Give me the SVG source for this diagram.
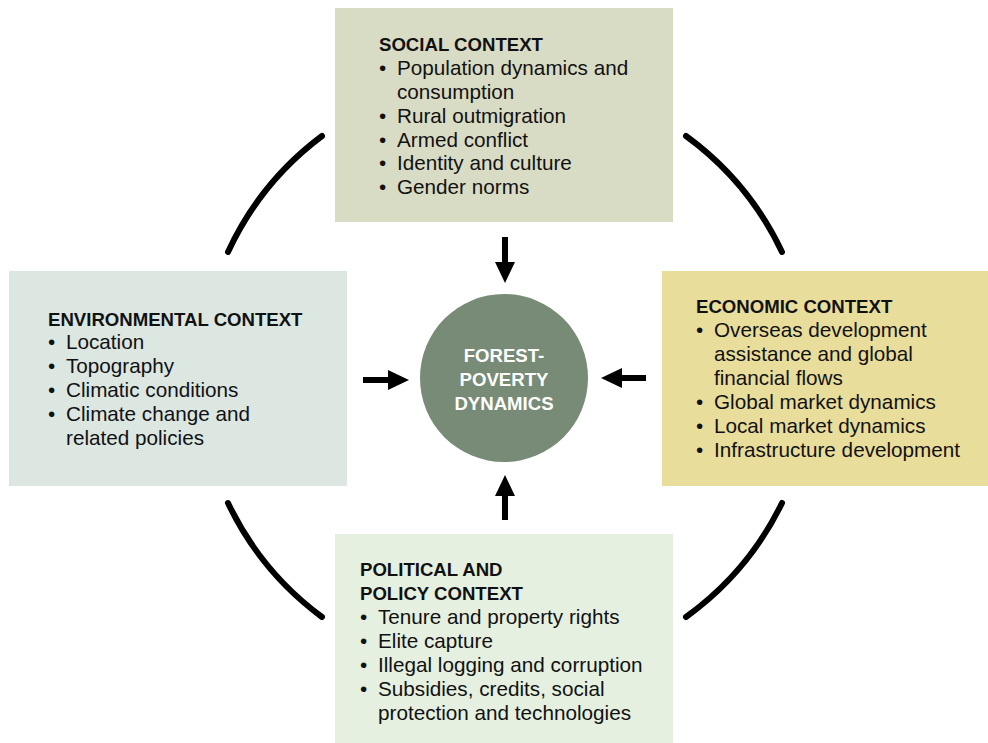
<svg xmlns="http://www.w3.org/2000/svg" width="988" height="743" viewBox="0 0 988 743">
<style>
  .t { font-family: "Liberation Sans", Arial, sans-serif; font-size: 20.7px; fill: #111; }
  .h { font-weight: bold; font-size: 18.6px; }
  .c { font-family: "Liberation Sans", Arial, sans-serif; font-size: 18.6px; font-weight: bold; fill: #fff; text-anchor: middle; }
  .arc { fill: none; stroke: #000; stroke-width: 6; stroke-linecap: round; }
  .arr { fill: none; stroke: #000; stroke-width: 6; marker-end: url(#head); }
</style>
<defs>
  <marker id="head" markerUnits="userSpaceOnUse" markerWidth="22" markerHeight="22" refX="0" refY="10" orient="auto">
    <path d="M0,0 L21,10 L0,20 Z" fill="#000"/>
  </marker>
</defs>
<rect width="988" height="743" fill="#fff"/>

<g id="connectors">
  <path class="arc" d="M322,136 A304,304 0 0 0 228,252"/>
  <path class="arc" d="M686,136 A304,304 0 0 1 782,252"/>
  <path class="arc" d="M228,503 A304,304 0 0 0 322,617"/>
  <path class="arc" d="M782,503 A304,304 0 0 1 686,617"/>
  <path class="arr" d="M505,237 L505,262"/>
  <path class="arr" d="M505,520 L505,496"/>
  <path class="arr" d="M363,380 L388,380"/>
  <path class="arr" d="M646,378 L622,378"/>
</g>

<g id="social">
  <rect x="335" y="8" width="338" height="214" fill="#d9dcc4"/>
  <text class="t"><tspan class="h" x="379" y="51">SOCIAL CONTEXT</tspan><tspan x="379" y="75">•</tspan><tspan x="397" y="75">Population dynamics and</tspan><tspan x="397" y="99">consumption</tspan><tspan x="379" y="123">•</tspan><tspan x="397" y="123">Rural outmigration</tspan><tspan x="379" y="147">•</tspan><tspan x="397" y="147">Armed conflict</tspan><tspan x="379" y="170">•</tspan><tspan x="397" y="170">Identity and culture</tspan><tspan x="379" y="194">•</tspan><tspan x="397" y="194">Gender norms</tspan></text>
</g>

<g id="environmental">
  <rect x="9" y="271" width="338" height="215" fill="#dce7e2"/>
  <text class="t"><tspan class="h" x="48" y="326">ENVIRONMENTAL CONTEXT</tspan><tspan x="48" y="349">•</tspan><tspan x="66" y="349">Location</tspan><tspan x="48" y="373">•</tspan><tspan x="66" y="373">Topography</tspan><tspan x="48" y="397">•</tspan><tspan x="66" y="397">Climatic conditions</tspan><tspan x="48" y="421">•</tspan><tspan x="66" y="421">Climate change and</tspan><tspan x="66" y="445">related policies</tspan></text>
</g>

<g id="economic">
  <rect x="662" y="271" width="326" height="215" fill="#e9dd9c"/>
  <text class="t"><tspan class="h" x="696" y="313">ECONOMIC CONTEXT</tspan><tspan x="696" y="337">•</tspan><tspan x="714" y="337">Overseas development</tspan><tspan x="714" y="361">assistance and global</tspan><tspan x="714" y="385">financial flows</tspan><tspan x="696" y="409">•</tspan><tspan x="714" y="409">Global market dynamics</tspan><tspan x="696" y="433">•</tspan><tspan x="714" y="433">Local market dynamics</tspan><tspan x="696" y="457">•</tspan><tspan x="714" y="457">Infrastructure development</tspan></text>
</g>

<g id="political">
  <rect x="335" y="534" width="338" height="209" fill="#e5f0e0"/>
  <text class="t"><tspan class="h" x="360" y="576">POLITICAL AND</tspan><tspan class="h" x="360" y="600">POLICY CONTEXT</tspan><tspan x="360" y="624">•</tspan><tspan x="378" y="624">Tenure and property rights</tspan><tspan x="360" y="648">•</tspan><tspan x="378" y="648">Elite capture</tspan><tspan x="360" y="672">•</tspan><tspan x="378" y="672">Illegal logging and corruption</tspan><tspan x="360" y="696">•</tspan><tspan x="378" y="696">Subsidies, credits, social</tspan><tspan x="378" y="720">protection and technologies</tspan></text>
</g>

<g id="center">
  <circle cx="504" cy="378" r="84" fill="#788b77"/>
  <text class="c"><tspan x="504" y="362">FOREST-</tspan><tspan x="504" y="386">POVERTY</tspan><tspan x="504" y="410">DYNAMICS</tspan></text>
</g>
</svg>
